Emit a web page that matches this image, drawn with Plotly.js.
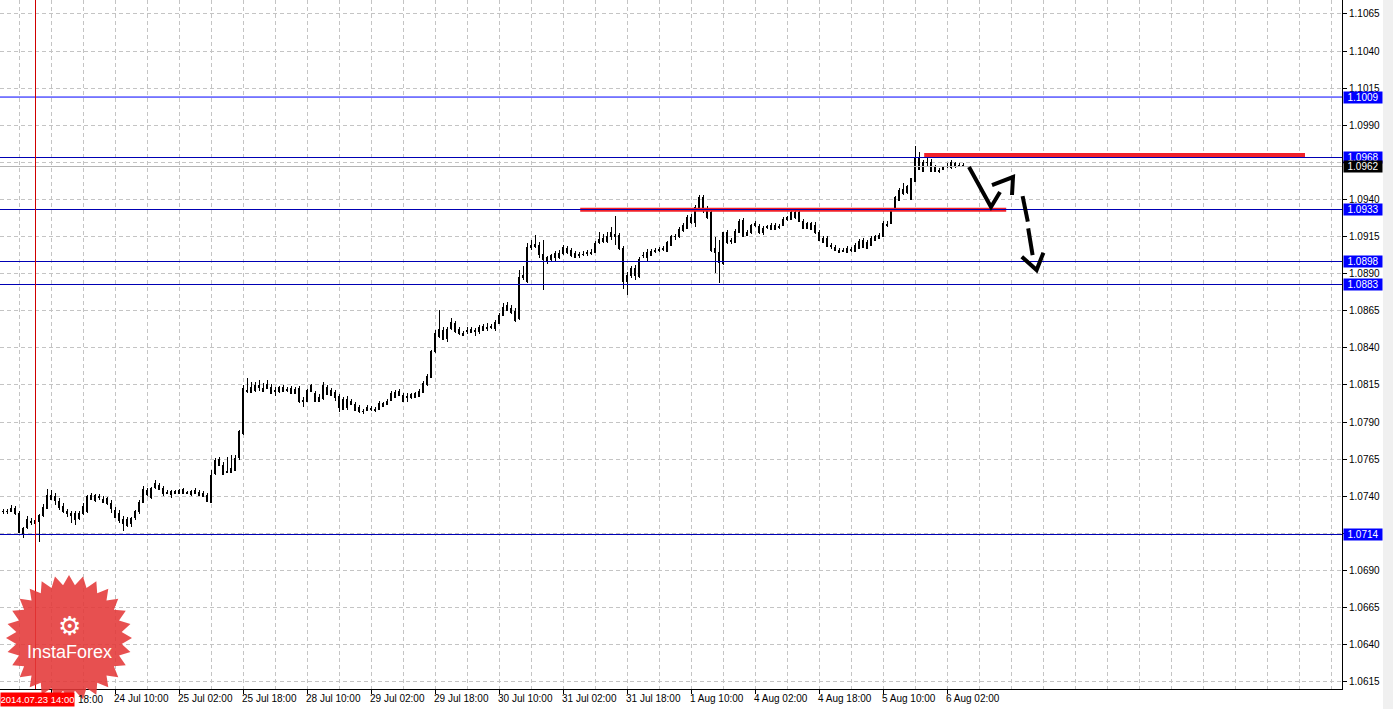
<!DOCTYPE html>
<html><head><meta charset="utf-8">
<script src="https://cdn.plot.ly/plotly-3.0.1.min.js"></script>
<style>html,body{margin:0;padding:0;background:#fff;overflow:hidden}#chart{width:1393px;height:709px}
.boxlayer path{shape-rendering:crispEdges}</style>
</head><body><div id="chart"></div>
<script>
// ---- H1 candles, 23 Jul 2014 06:00 .. 6 Aug 2014 ----
const open = [
1.07294,1.07300,1.07300,1.07320,1.07287,1.07152,1.07192,1.07232,1.07219,1.07232,
1.07267,1.07320,1.07380,1.07400,1.07367,1.07334,1.07300,1.07273,1.07287,1.07253,
1.07287,1.07294,1.07407,1.07374,1.07400,1.07380,1.07354,1.07354,1.07307,1.07287,
1.07246,1.07246,1.07219,1.07260,1.07294,1.07361,1.07441,1.07394,1.07462,1.07475,
1.07455,1.07428,1.07414,1.07421,1.07421,1.07421,1.07428,1.07414,1.07441,1.07428,
1.07421,1.07407,1.07361,1.07556,1.07650,1.07610,1.07569,1.07563,1.07576,1.07664,
1.07826,1.08115,1.08102,1.08115,1.08143,1.08129,1.08156,1.08136,1.08115,1.08108,
1.08136,1.08122,1.08129,1.08095,1.08129,1.08048,1.08041,1.08108,1.08095,1.08068,
1.08061,1.08136,1.08115,1.08102,1.08075,1.07987,1.08001,1.08041,1.08021,1.08001,
1.07974,1.07981,1.07994,1.07987,1.07987,1.08008,1.08021,1.08048,1.08068,1.08108,
1.08081,1.08075,1.08068,1.08068,1.08075,1.08102,1.08156,1.08203,1.08372,1.08479,
1.08520,1.08466,1.08533,1.08567,1.08526,1.08486,1.08513,1.08506,1.08520,1.08513,
1.08520,1.08540,1.08540,1.08533,1.08567,1.08621,1.08688,1.08668,1.08648,1.08601,
1.08890,1.08844,1.09092,1.09086,1.09092,1.09032,1.08985,1.08998,1.09012,1.09012,
1.09039,1.09072,1.09059,1.09039,1.09032,1.09032,1.09045,1.09045,1.09045,1.09113,
1.09119,1.09119,1.09147,1.09167,1.09160,1.09072,1.08844,1.08890,1.08938,1.08884,
1.09019,1.09012,1.09025,1.09052,1.09059,1.09072,1.09052,1.09092,1.09153,1.09153,
1.09194,1.09207,1.09248,1.09248,1.09349,1.09410,1.09342,1.09315,1.09072,1.09045,
1.08971,1.09113,1.09126,1.09113,1.09180,1.09261,1.09180,1.09174,1.09227,1.09221,
1.09174,1.09221,1.09200,1.09227,1.09221,1.09227,1.09275,1.09268,1.09309,1.09309,
1.09254,1.09207,1.09200,1.09227,1.09174,1.09140,1.09140,1.09092,1.09079,1.09059,
1.09052,1.09045,1.09065,1.09052,1.09072,1.09126,1.09113,1.09092,1.09126,1.09160,
1.09153,1.09227,1.09241,1.09335,1.09396,1.09443,1.09484,1.09403,1.09524,1.09686,
1.09591,1.09652,1.09652,1.09619,1.09598,1.09605,1.09619,1.09612,1.09639,1.09625,
1.09632];
const high = [
1.07313,1.07313,1.07340,1.07334,1.07300,1.07192,1.07267,1.07253,1.07246,1.07280,
1.07347,1.07448,1.07441,1.07421,1.07387,1.07354,1.07313,1.07300,1.07300,1.07300,
1.07354,1.07407,1.07421,1.07414,1.07414,1.07400,1.07394,1.07374,1.07327,1.07307,
1.07267,1.07260,1.07260,1.07307,1.07374,1.07469,1.07455,1.07462,1.07509,1.07489,
1.07469,1.07441,1.07441,1.07441,1.07448,1.07455,1.07434,1.07441,1.07455,1.07441,
1.07434,1.07421,1.07576,1.07657,1.07664,1.07630,1.07664,1.07677,1.07677,1.07846,
1.08149,1.08196,1.08169,1.08169,1.08183,1.08163,1.08183,1.08156,1.08136,1.08143,
1.08149,1.08136,1.08143,1.08136,1.08143,1.08068,1.08122,1.08156,1.08108,1.08088,
1.08169,1.08149,1.08129,1.08115,1.08088,1.08068,1.08075,1.08054,1.08034,1.08014,
1.07987,1.08014,1.08008,1.08001,1.08041,1.08034,1.08054,1.08108,1.08115,1.08122,
1.08095,1.08095,1.08095,1.08102,1.08122,1.08176,1.08223,1.08385,1.08520,1.08655,
1.08540,1.08540,1.08601,1.08580,1.08540,1.08513,1.08540,1.08540,1.08533,1.08553,
1.08560,1.08567,1.08560,1.08587,1.08635,1.08702,1.08709,1.08688,1.08668,1.08924,
1.08951,1.09106,1.09126,1.09160,1.09113,1.09126,1.09019,1.09032,1.09052,1.09059,
1.09092,1.09086,1.09072,1.09052,1.09045,1.09052,1.09059,1.09065,1.09119,1.09180,
1.09167,1.09180,1.09214,1.09288,1.09174,1.09086,1.08911,1.08951,1.08958,1.09012,
1.09045,1.09065,1.09065,1.09072,1.09079,1.09086,1.09119,1.09160,1.09167,1.09214,
1.09241,1.09295,1.09302,1.09362,1.09430,1.09430,1.09356,1.09329,1.09147,1.09126,
1.09180,1.09194,1.09140,1.09200,1.09268,1.09275,1.09194,1.09234,1.09254,1.09234,
1.09221,1.09227,1.09241,1.09241,1.09234,1.09281,1.09288,1.09322,1.09329,1.09329,
1.09268,1.09248,1.09248,1.09248,1.09194,1.09153,1.09153,1.09106,1.09092,1.09072,
1.09072,1.09086,1.09079,1.09106,1.09133,1.09140,1.09126,1.09153,1.09160,1.09174,
1.09254,1.09254,1.09335,1.09423,1.09477,1.09511,1.09497,1.09544,1.09760,1.09720,
1.09666,1.09679,1.09672,1.09632,1.09612,1.09625,1.09646,1.09666,1.09652,1.09646,
1.09646];
const low = [
1.07280,1.07280,1.07294,1.07273,1.07152,1.07118,1.07178,1.07205,1.07205,1.07091,
1.07260,1.07313,1.07374,1.07340,1.07307,1.07287,1.07260,1.07219,1.07205,1.07239,
1.07273,1.07287,1.07374,1.07361,1.07374,1.07354,1.07340,1.07287,1.07253,1.07219,
1.07165,1.07192,1.07192,1.07239,1.07280,1.07354,1.07400,1.07380,1.07448,1.07441,
1.07400,1.07414,1.07387,1.07414,1.07414,1.07414,1.07414,1.07400,1.07414,1.07400,
1.07394,1.07361,1.07354,1.07542,1.07604,1.07542,1.07556,1.07556,1.07569,1.07644,
1.07812,1.08095,1.08095,1.08102,1.08108,1.08108,1.08122,1.08088,1.08075,1.08095,
1.08102,1.08102,1.08088,1.08088,1.08028,1.08001,1.08034,1.08102,1.08034,1.08034,
1.08048,1.08081,1.08075,1.08041,1.07968,1.07981,1.07981,1.08014,1.07974,1.07961,
1.07954,1.07974,1.07974,1.07968,1.07981,1.08001,1.08014,1.08041,1.08061,1.08075,
1.08034,1.08034,1.08054,1.08061,1.08068,1.08095,1.08143,1.08196,1.08365,1.08466,
1.08452,1.08439,1.08520,1.08500,1.08486,1.08479,1.08493,1.08500,1.08479,1.08493,
1.08513,1.08513,1.08526,1.08513,1.08560,1.08614,1.08648,1.08628,1.08574,1.08587,
1.08857,1.08837,1.09059,1.09072,1.09005,1.08789,1.08965,1.08985,1.08985,1.08998,
1.09025,1.09032,1.09012,1.09005,1.09005,1.09019,1.09019,1.09025,1.09039,1.09099,
1.09106,1.09106,1.09126,1.09092,1.09059,1.08796,1.08755,1.08870,1.08857,1.08870,
1.09005,1.08978,1.09019,1.09039,1.09045,1.09052,1.09045,1.09086,1.09126,1.09140,
1.09180,1.09200,1.09234,1.09214,1.09342,1.09309,1.09268,1.09045,1.08904,1.08837,
1.08958,1.09099,1.09099,1.09106,1.09174,1.09147,1.09153,1.09167,1.09214,1.09167,
1.09160,1.09200,1.09194,1.09194,1.09200,1.09221,1.09254,1.09261,1.09268,1.09248,
1.09200,1.09200,1.09194,1.09167,1.09119,1.09106,1.09079,1.09065,1.09052,1.09039,
1.09045,1.09039,1.09045,1.09045,1.09065,1.09072,1.09065,1.09086,1.09119,1.09133,
1.09147,1.09214,1.09234,1.09329,1.09389,1.09430,1.09436,1.09396,1.09517,1.09598,
1.09585,1.09619,1.09585,1.09585,1.09578,1.09598,1.09612,1.09605,1.09612,1.09619,
1.09619];
const close = [
1.07300,1.07294,1.07320,1.07287,1.07159,1.07185,1.07246,1.07226,1.07239,1.07267,
1.07327,1.07407,1.07407,1.07374,1.07327,1.07300,1.07287,1.07287,1.07246,1.07287,
1.07334,1.07400,1.07380,1.07407,1.07394,1.07361,1.07387,1.07320,1.07260,1.07239,
1.07219,1.07205,1.07253,1.07294,1.07361,1.07448,1.07414,1.07455,1.07489,1.07448,
1.07421,1.07421,1.07434,1.07434,1.07441,1.07448,1.07421,1.07434,1.07421,1.07407,
1.07400,1.07367,1.07542,1.07644,1.07610,1.07549,1.07563,1.07590,1.07657,1.07839,
1.08129,1.08108,1.08136,1.08149,1.08136,1.08108,1.08129,1.08095,1.08108,1.08136,
1.08108,1.08115,1.08095,1.08122,1.08041,1.08041,1.08115,1.08143,1.08041,1.08041,
1.08149,1.08088,1.08081,1.08068,1.08001,1.08054,1.08054,1.08021,1.07981,1.07968,
1.07968,1.08001,1.07987,1.07981,1.08028,1.08028,1.08041,1.08095,1.08102,1.08081,
1.08041,1.08068,1.08088,1.08095,1.08108,1.08163,1.08210,1.08372,1.08500,1.08526,
1.08459,1.08526,1.08574,1.08513,1.08500,1.08500,1.08520,1.08526,1.08513,1.08540,
1.08547,1.08533,1.08547,1.08574,1.08621,1.08675,1.08655,1.08641,1.08587,1.08877,
1.08877,1.09079,1.09079,1.09099,1.09032,1.08992,1.09012,1.09019,1.09039,1.09039,
1.09079,1.09045,1.09025,1.09012,1.09025,1.09030,1.09039,1.09039,1.09106,1.09133,
1.09140,1.09147,1.09174,1.09147,1.09072,1.08844,1.08890,1.08938,1.08890,1.08998,
1.09025,1.09045,1.09052,1.09059,1.09065,1.09065,1.09113,1.09147,1.09147,1.09200,
1.09227,1.09281,1.09281,1.09349,1.09410,1.09342,1.09275,1.09059,1.09045,1.08978,
1.09180,1.09180,1.09119,1.09187,1.09254,1.09153,1.09160,1.09227,1.09241,1.09174,
1.09207,1.09214,1.09227,1.09200,1.09214,1.09268,1.09268,1.09309,1.09275,1.09254,
1.09207,1.09241,1.09241,1.09174,1.09126,1.09113,1.09086,1.09086,1.09059,1.09045,
1.09059,1.09072,1.09059,1.09092,1.09119,1.09079,1.09072,1.09140,1.09147,1.09140,
1.09241,1.09234,1.09329,1.09410,1.09463,1.09470,1.09450,1.09538,1.09686,1.09605,
1.09646,1.09646,1.09591,1.09591,1.09591,1.09612,1.09625,1.09646,1.09619,1.09632,
1.09620];

// time axis labels (bar index of each label); the first is mostly covered by the marker label
const timeTickBars = [12,28,44,60,76,92,108,124,140,156,172,188,204,220,236];
const timeTickLabels = ['','24 Jul 10:00','25 Jul 02:00','25 Jul 18:00','28 Jul 10:00',
  '29 Jul 02:00','29 Jul 18:00','30 Jul 10:00','31 Jul 02:00','31 Jul 18:00','1 Aug 10:00',
  '4 Aug 02:00','4 Aug 18:00','5 Aug 10:00','6 Aug 02:00'];
const firstTimeLabelVisible = '18:00';
const priceTicks = [1.0615,1.0640,1.0665,1.0690,1.0715,1.0740,1.0765,1.0790,1.0815,1.0840,
  1.0865,1.0890,1.0915,1.0940,1.0965,1.0990,1.1015,1.1040,1.1065];
const priceTickLabels = ['1.0615','1.0640','1.0665','1.0690','','1.0740','1.0765','1.0790','1.0815','1.0840',
  '1.0865','1.0890','1.0915','1.0940','','1.0990','1.1015','1.1040','1.1065'];
// horizontal level lines and current bid
const levelPrices = [1.1009, 1.0968, 1.0933, 1.0898, 1.0883, 1.0714];
const bidPrice = 1.0962;
const markerBar = 8;               // vertical line at 2014.07.23 14:00
const markerLabel = '2014.07.23 14:00';
// red resistance segments
const resistanceLevels = [1.0970, 1.0933];
const resistanceFrom = [230.3, 144.3];
const resistanceTo = [325.5, 250.8];

const barIndex = open.map((_, i) => i);
const FONT = 'Liberation Sans, Arial, sans-serif';
const PW = 1342, PH = 689;
const YR = [1.06101, 1.10744], XR = [-0.75, 334.75];

function snapY(p){ const px = PH*(YR[1]-p)/(YR[1]-YR[0]); const s = Math.floor(px)+0.5; return YR[1] - s*(YR[1]-YR[0])/PH; }
function snapX(b){ const px = (b-XR[0])*PW/(XR[1]-XR[0]); const s = Math.floor(px)+0.5; return XR[0] + s*(XR[1]-XR[0])/PW; }

const minorGrid = [];
for (let b = 4; b <= 334; b += 8) minorGrid.push(b);

const trace = {
  type: 'candlestick', x: barIndex, open: open, high: high, low: low, close: close,
  increasing: {line: {color: '#000000', width: 1}, fillcolor: '#ffffff'},
  decreasing: {line: {color: '#000000', width: 1}, fillcolor: '#000000'},
  whiskerwidth: 0, hoverinfo: 'skip'
};

const shapes = [];
shapes.push({type:'line', xref:'paper', x0:0, x1:1, yref:'y', y0:snapY(bidPrice), y1:snapY(bidPrice),
  line:{color:'#b4b4b4', width:1}, layer:'above'});
resistanceLevels.forEach((p, i) => shapes.push({type:'line', xref:'x', yref:'y',
  x0:resistanceFrom[i], x1:resistanceTo[i], y0:p, y1:p, line:{color:'#f0202a', width:4}, layer:'above'}));
levelPrices.forEach((p, i) => {
  const yy = i === 0 ? p : snapY(p);
  shapes.push({type:'line', xref:'paper', x0:0, x1:1, yref:'y', y0:yy, y1:yy,
    line:{color: i === 0 ? '#0000ff' : '#0000b4', width:1}, layer:'above'});
});
shapes.push({type:'line', xref:'x', yref:'paper', x0:snapX(markerBar), x1:snapX(markerBar), y0:0, y1:1,
  line:{color:'#d00000', width:1}, layer:'above'});
shapes.push({type:'rect', xref:'paper', yref:'paper', x0:1383/PW, x1:1393/PW, y0:-20/PH, y1:1,
  fillcolor:'#f0f0f0', line:{width:0}, layer:'above'});
function pth(pts){ return 'M' + pts.map(p => p[0] + ',' + p[1]).join(' L'); }
const drawStyle = {color:'#000000', width:4};
[
  [[241.5,1.09618],[247,1.09349],[249.25,1.09450]],
  [[247.25,1.09497],[252.5,1.09551],[252.25,1.09430]],
  [[254.9,1.09423],[256.2,1.09250]],
  [[256.3,1.09205],[257.4,1.09025]],
  [[254.7,1.09014],[258.4,1.08924],[260.1,1.09041]]
].forEach(pts => shapes.push({type:'path', xref:'x', yref:'y', path:pth(pts), line:drawStyle, layer:'above'}));

(function(){
  const cx = 69, cy = 638, R = 63, r = 53, N = 28;
  let d = '';
  for (let i = 0; i < 2*N; i++) {
    const a = -Math.PI/2 + i*Math.PI/N;
    const rr = (i % 2 === 0) ? R : r;
    const px = cx + rr*Math.cos(a), py = cy + rr*Math.sin(a);
    d += (i === 0 ? 'M' : 'L') + (px/PW).toFixed(5) + ',' + ((PH-py)/PH).toFixed(5) + ' ';
  }
  d += 'Z';
  shapes.push({type:'path', xref:'paper', yref:'paper', path:d, fillcolor:'rgba(228,56,56,0.88)',
    line:{width:0}, layer:'above'});
})();

const annotations = [];
levelPrices.forEach(p => annotations.push({xref:'paper', x:1, xanchor:'left', xshift:1, yref:'y', y:p,
  yanchor:'middle', text:p.toFixed(4), showarrow:false, bgcolor:'#0000ff', font:{family:FONT, size:10, color:'#ffffff'},
  width:38, height:11, borderpad:0}));
annotations.push({xref:'paper', x:1, xanchor:'left', xshift:1, yref:'y', y:bidPrice, yanchor:'middle',
  text:bidPrice.toFixed(4), showarrow:false, bgcolor:'#000000', font:{family:FONT, size:10, color:'#ffffff'},
  width:38, height:11, borderpad:0});
annotations.push({xref:'paper', x:0, xanchor:'left', yref:'paper', y:0, yanchor:'top', yshift:-3,
  text:markerLabel, showarrow:false, bgcolor:'#ff0000', font:{family:FONT, size:9.5, color:'#ffffff'},
  width:73, height:13, borderpad:0});
annotations.push({xref:'paper', x:77/PW, xanchor:'left', yref:'paper', y:0, yanchor:'top', yshift:-3,
  text:firstTimeLabelVisible, showarrow:false, font:{family:FONT, size:10, color:'#000000'},
  height:13, borderpad:0});
annotations.push({xref:'paper', x:69/PW, xanchor:'center', yref:'paper', y:(PH-652)/PH, yanchor:'middle',
  text:'InstaForex', showarrow:false, font:{family:FONT, size:18, color:'#ffffff'}});
annotations.push({xref:'paper', x:69/PW, xanchor:'center', yref:'paper', y:(PH-626)/PH, yanchor:'middle',
  text:'\u2699', showarrow:false, font:{family:'DejaVu Sans', size:26, color:'#ffffff'}});

const gridStyle = {gridcolor:'#c4c4c4', griddash:'4px,3px', gridwidth:1};
const layout = {
  width:1393, height:709,
  margin:{l:0, r:51, t:0, b:20, pad:0},
  paper_bgcolor:'#ffffff', plot_bgcolor:'#ffffff',
  showlegend:false, hovermode:false,
  font:{family:FONT, size:10, color:'#000000'},
  xaxis:Object.assign({type:'linear', range:XR, rangeslider:{visible:false},
    tickmode:'array', tickvals:timeTickBars, ticktext:timeTickLabels, ticks:'outside', ticklen:4,
    tickcolor:'#000000', showline:true, linecolor:'#000000', linewidth:1, showgrid:true, zeroline:false,
    ticklabelposition:'outside right', ticklabelshift:-2, tickfont:{family:FONT, size:10, color:'#000000'},
    minor:Object.assign({tickvals:minorGrid, showgrid:true, ticks:''}, gridStyle), fixedrange:true}, gridStyle),
  yaxis:Object.assign({side:'right', range:YR, tickmode:'array', tickvals:priceTicks,
    ticktext:priceTickLabels, ticks:'outside', ticklen:4, tickcolor:'#000000', showline:true,
    linecolor:'#000000', linewidth:1, showgrid:true, zeroline:false,
    tickfont:{family:FONT, size:10, color:'#000000'}, fixedrange:true}, gridStyle),
  shapes:shapes, annotations:annotations
};
Plotly.newPlot('chart', [trace], layout, {staticPlot:true, displayModeBar:false});
</script></body></html>
